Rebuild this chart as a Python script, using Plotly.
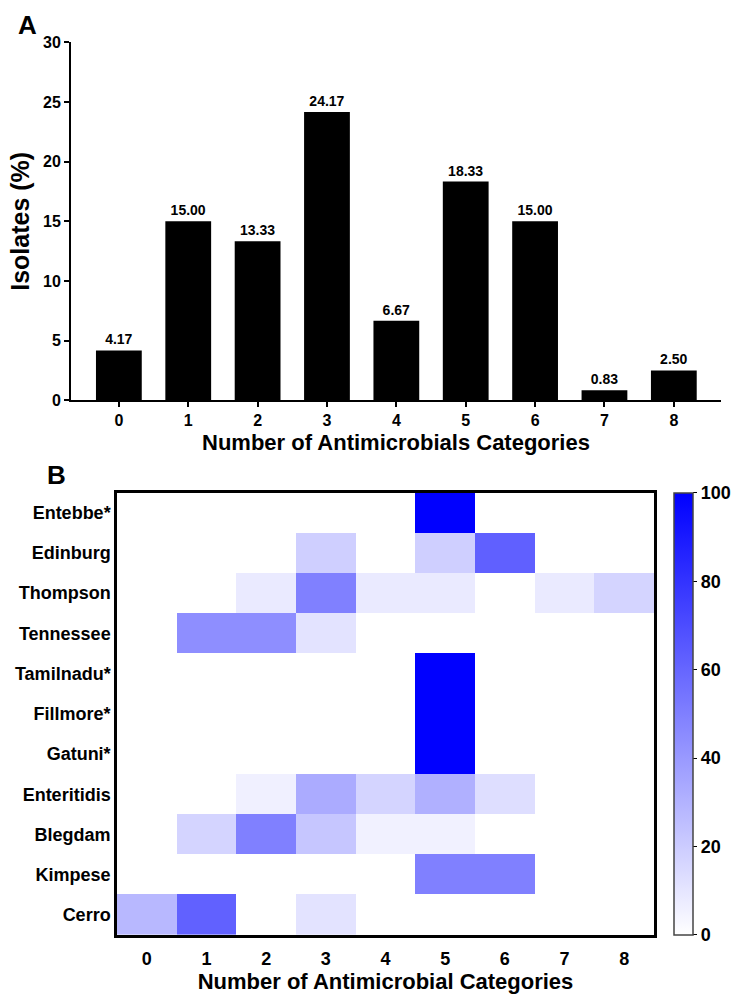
import plotly.graph_objects as go

# Panel A data
categories = [0, 1, 2, 3, 4, 5, 6, 7, 8]
isolates_pct = [4.17, 15.00, 13.33, 24.17, 6.67, 18.33, 15.00, 0.83, 2.50]

# Panel B data (rows top-to-bottom), % of isolates per serovar
serovars = ["Entebbe*", "Edinburg", "Thompson", "Tennessee", "Tamilnadu*",
            "Fillmore*", "Gatuni*", "Enteritidis", "Blegdam", "Kimpese", "Cerro"]
entebbe     = [0, 0, 0, 0, 0, 100, 0, 0, 0]
edinburg    = [0, 0, 0, 18.75, 0, 18.75, 62.5, 0, 0]
thompson    = [0, 0, 8.33, 50, 8.33, 8.33, 0, 8.33, 16.67]
tennessee   = [0, 44.4, 44.4, 11.1, 0, 0, 0, 0, 0]
tamilnadu   = [0, 0, 0, 0, 0, 100, 0, 0, 0]
fillmore    = [0, 0, 0, 0, 0, 100, 0, 0, 0]
gatuni      = [0, 0, 0, 0, 0, 100, 0, 0, 0]
enteritidis = [0, 0, 6, 33, 17, 31, 13, 0, 0]
blegdam     = [0, 16.7, 50, 22.2, 5.6, 5.6, 0, 0, 0]
kimpese     = [0, 0, 0, 0, 0, 50, 50, 0, 0]
cerro       = [28, 62, 0, 11, 0, 0, 0, 0, 0]
heat_z = [entebbe, edinburg, thompson, tennessee, tamilnadu, fillmore,
          gatuni, enteritidis, blegdam, kimpese, cerro]
cbar_ticks = [0, 20, 40, 60, 80, 100]

FONT = "Arial, Liberation Sans, Helvetica, sans-serif"
W, H = 744, 999

def px_x(x):
    return x / W

def px_y(y):
    return 1 - y / H

def bold(size):
    return dict(family=FONT, size=size, color="black", weight="bold")

fig = go.Figure()

fig.add_trace(go.Bar(
    x=categories, y=isolates_pct, width=0.66,
    marker=dict(color="black", line=dict(width=0)),
    texttemplate="%{y:.2f}", textposition="outside",
    textfont=bold(14),
    cliponaxis=False, showlegend=False,
    xaxis="x", yaxis="y",
))

fig.add_trace(go.Heatmap(
    z=heat_z, x=categories, y=serovars,
    colorscale=[[0, "rgb(255,255,255)"], [1, "rgb(0,0,255)"]],
    zmin=0, zmax=100,
    xaxis="x2", yaxis="y2",
    colorbar=dict(
        x=px_x(674), xanchor="left", xpad=0,
        y=px_y(943), yanchor="bottom", len=450 / H, lenmode="fraction",
        thickness=19, thicknessmode="pixels",
        outlinecolor="#444", outlinewidth=1.5,
        tickvals=cbar_ticks, ticks="outside", ticklen=4, tickcolor="black",
        tickfont=bold(18),
        ypad=0,
    ),
    showscale=True,
))

fig.update_layout(
    width=W, height=H,
    margin=dict(l=0, r=0, t=0, b=0),
    paper_bgcolor="white", plot_bgcolor="white",
    font=dict(family=FONT, color="black"),
    xaxis=dict(
        domain=[px_x(71), px_x(721)], anchor="y",
        range=[-0.69, 8.68], tickvals=categories,
        showline=True, linecolor="black", linewidth=2,
        ticks="outside", ticklen=5, tickwidth=2, tickcolor="black",
        showgrid=False, zeroline=False,
        tickfont=bold(16),
        title=dict(text="Number of Antimicrobials Categories", standoff=6,
                   font=bold(22)),
    ),
    yaxis=dict(
        domain=[px_y(399), px_y(35)], anchor="x",
        range=[0, 30], tickvals=[0, 5, 10, 15, 20, 25, 30],
        showline=True, linecolor="black", linewidth=2,
        ticks="outside", ticklen=5, tickwidth=2, tickcolor="black",
        showgrid=False, zeroline=False,
        tickfont=bold(16),
        title=dict(text="Isolates (%)", standoff=6, font=bold(25)),
    ),
    xaxis2=dict(
        domain=[px_x(117), px_x(654)], anchor="y2",
        range=[-0.5, 8.5], tickvals=categories,
        showline=True, mirror=True, linecolor="black", linewidth=2.5,
        ticks="", showgrid=False, zeroline=False,
        ticklabelstandoff=6,
        tickfont=bold(18),
        title=dict(text="Number of Antimicrobial Categories", standoff=2,
                   font=bold(22)),
    ),
    yaxis2=dict(
        domain=[px_y(943), px_y(493)], anchor="x2",
        autorange="reversed", type="category",
        showline=True, mirror=True, linecolor="black", linewidth=2.5,
        ticks="", showgrid=False, zeroline=False,
        tickfont=bold(18),
    ),
    annotations=[
        dict(text="A", x=px_x(27), y=px_y(17), xref="paper", yref="paper",
             showarrow=False, xanchor="center", yanchor="middle",
             font=bold(26)),
        dict(text="B", x=px_x(56), y=px_y(475), xref="paper", yref="paper",
             showarrow=False, xanchor="center", yanchor="middle",
             font=bold(26)),
    ],
)

# remove the default page margin so the figure sits at the window origin
fig.write_html("out.html",
               config={"displayModeBar": False},
               post_script="document.body.style.margin='0';")
